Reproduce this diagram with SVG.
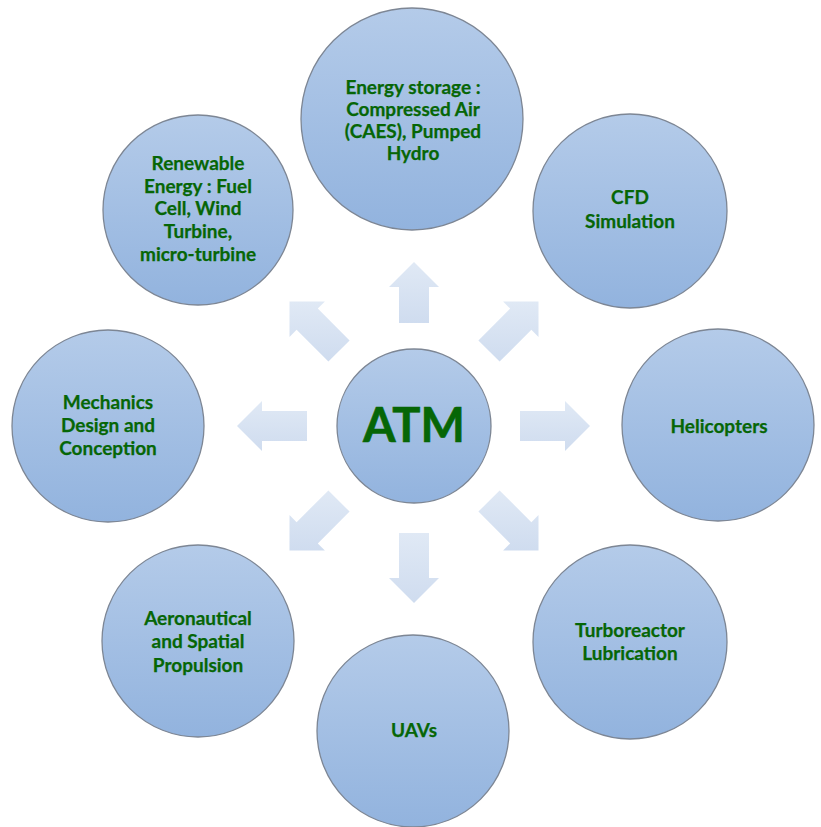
<svg xmlns="http://www.w3.org/2000/svg" width="821" height="827" viewBox="0 0 821 827">
  <defs>
    <linearGradient id="gCircle" x1="0" y1="0" x2="0" y2="1">
      <stop offset="0" stop-color="#b4cbe9"/>
      <stop offset="1" stop-color="#92b3de"/>
    </linearGradient>
    <linearGradient id="gArrow" x1="0" y1="0" x2="0" y2="1">
      <stop offset="0" stop-color="#e0e9f5"/>
      <stop offset="1" stop-color="#cfdcef"/>
    </linearGradient>
  </defs>
  <style>
    .node circle { fill: url(#gCircle); stroke: #7d8694; stroke-width: 1.3; }
    .lbl { font-family: Lato, "Open Sans", "Liberation Sans", sans-serif; font-weight: bold; font-size: 19px; fill: #066606; text-anchor: middle; stroke: #066606; stroke-width: 0.25; }
    .big { font-size: 47px; stroke-width: 0.6; }
    .arrow { fill: url(#gArrow); stroke: none; }
  </style>
  <rect width="821" height="827" fill="#ffffff"/>

  <g id="connectors">
    <polygon class="arrow" points="399,323 399,287 389,287 414,262 439,287 429,287 429,323"/>
    <polygon class="arrow" points="399,533 399,578 389,578 414,603 439,578 429,578 429,533"/>
    <polygon class="arrow" points="520,411 565,411 565,401 590,426 565,451 565,441 520,441"/>
    <polygon class="arrow" points="307,411 262,411 262,401 237,426 262,451 262,441 307,441"/>
    <polygon class="arrow" points="349.6,340.4 317.8,308.6 324.9,301.5 289.5,301.5 289.5,336.9 296.6,329.8 328.4,361.6"/>
    <polygon class="arrow" points="478.4,340.4 510.2,308.6 503.1,301.5 538.5,301.5 538.5,336.9 531.4,329.8 499.6,361.6"/>
    <polygon class="arrow" points="349.6,511.6 317.8,543.4 324.9,550.5 289.5,550.5 289.5,515.1 296.6,522.2 328.4,490.4"/>
    <polygon class="arrow" points="478.4,511.6 510.2,543.4 503.1,550.5 538.5,550.5 538.5,515.1 531.4,522.2 499.6,490.4"/>
  </g>

  <g id="atm" class="node">
    <circle cx="414" cy="426" r="77"/>
    <text class="lbl big" x="414" y="442">ATM</text>
  </g>

  <g id="energy-storage" class="node">
    <circle cx="412" cy="119" r="111"/>
    <text class="lbl" x="413" y="94">Energy storage :</text>
    <text class="lbl" x="413" y="116">Compressed Air</text>
    <text class="lbl" x="413" y="138">(CAES), Pumped</text>
    <text class="lbl" x="413" y="160">Hydro</text>
  </g>

  <g id="renewable" class="node">
    <circle cx="198" cy="210" r="95"/>
    <text class="lbl" x="198" y="170">Renewable</text>
    <text class="lbl" x="198" y="193">Energy : Fuel</text>
    <text class="lbl" x="198" y="215">Cell, Wind</text>
    <text class="lbl" x="198" y="238">Turbine,</text>
    <text class="lbl" x="198" y="261">micro-turbine</text>
  </g>

  <g id="cfd" class="node">
    <circle cx="630" cy="211" r="97"/>
    <text class="lbl" x="630" y="204">CFD</text>
    <text class="lbl" x="630" y="228">Simulation</text>
  </g>

  <g id="helicopters" class="node">
    <circle cx="718" cy="425" r="96"/>
    <text class="lbl" x="719" y="433">Helicopters</text>
  </g>

  <g id="mechanics" class="node">
    <circle cx="108" cy="426" r="96"/>
    <text class="lbl" x="108" y="409">Mechanics</text>
    <text class="lbl" x="108" y="432">Design and</text>
    <text class="lbl" x="108" y="455">Conception</text>
  </g>

  <g id="turboreactor" class="node">
    <circle cx="630" cy="642" r="97"/>
    <text class="lbl" x="630" y="637">Turboreactor</text>
    <text class="lbl" x="630" y="660">Lubrication</text>
  </g>

  <g id="aeronautical" class="node">
    <circle cx="198" cy="641" r="96"/>
    <text class="lbl" x="198" y="625">Aeronautical</text>
    <text class="lbl" x="198" y="648">and Spatial</text>
    <text class="lbl" x="198" y="672">Propulsion</text>
  </g>

  <g id="uavs" class="node">
    <circle cx="413" cy="731" r="96"/>
    <text class="lbl" x="414" y="737">UAVs</text>
  </g>
</svg>
